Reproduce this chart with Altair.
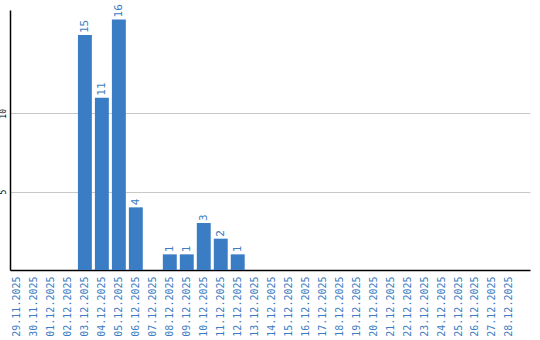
import altair as alt
import pandas as pd

dates = ["29.11.2025", "30.11.2025", "01.12.2025", "02.12.2025", "03.12.2025",
         "04.12.2025", "05.12.2025", "06.12.2025", "07.12.2025", "08.12.2025",
         "09.12.2025", "10.12.2025", "11.12.2025", "12.12.2025", "13.12.2025",
         "14.12.2025", "15.12.2025", "16.12.2025", "17.12.2025", "18.12.2025",
         "19.12.2025", "20.12.2025", "21.12.2025", "22.12.2025", "23.12.2025",
         "24.12.2025", "25.12.2025", "26.12.2025", "27.12.2025", "28.12.2025"]
counts = [0, 0, 0, 0, 15, 11, 16, 4, 0, 1, 1, 3, 2, 1, 0,
          0, 0, 0, 0, 0, 0, 0, 0, 0, 0, 0, 0, 0, 0, 0]
y_ticks = [5, 10]

df = pd.DataFrame({"date": dates, "count": counts})
df["label"] = [str(c) if c > 0 else "" for c in counts]

BLUE = "#3b7dc4"
FONT = "DejaVu Sans Mono"

x = alt.X("date:N", sort=dates, title=None,
          scale=alt.Scale(paddingInner=0.18, paddingOuter=0.4, align=0),
          axis=alt.Axis(labelAngle=270, labelColor=BLUE, labelFont=FONT,
                        labelFontSize=10, ticks=False, labelPadding=6,
                        domainColor="#000000", domainWidth=1.5, grid=False))
y = alt.Y("count:Q", title=None,
          scale=alt.Scale(domain=[0, 16.6], nice=False),
          axis=alt.Axis(values=y_ticks, labelAngle=270, labelFont=FONT,
                        labelFontSize=8, labelColor="#000000", ticks=False,
                        labelPadding=3, domainColor="#000000", domainWidth=1.5,
                        gridColor="#c8c8c8", gridWidth=1))

bars = alt.Chart(df).mark_bar(color=BLUE).encode(x=x, y=y)
labels = alt.Chart(df).mark_text(angle=270, align="left", baseline="middle",
                                 dx=2, color=BLUE, font=FONT, fontSize=11).encode(
    x=alt.X("date:N", sort=dates), y="count:Q", text="label:N")

chart = (bars + labels).properties(
    width=520, height=260, autosize="none", background="white",
    padding={"left": 10, "top": 10, "right": 10, "bottom": 70},
).configure_view(stroke=None)

chart.save("out.html", embed_options={"renderer": "svg", "actions": False})
